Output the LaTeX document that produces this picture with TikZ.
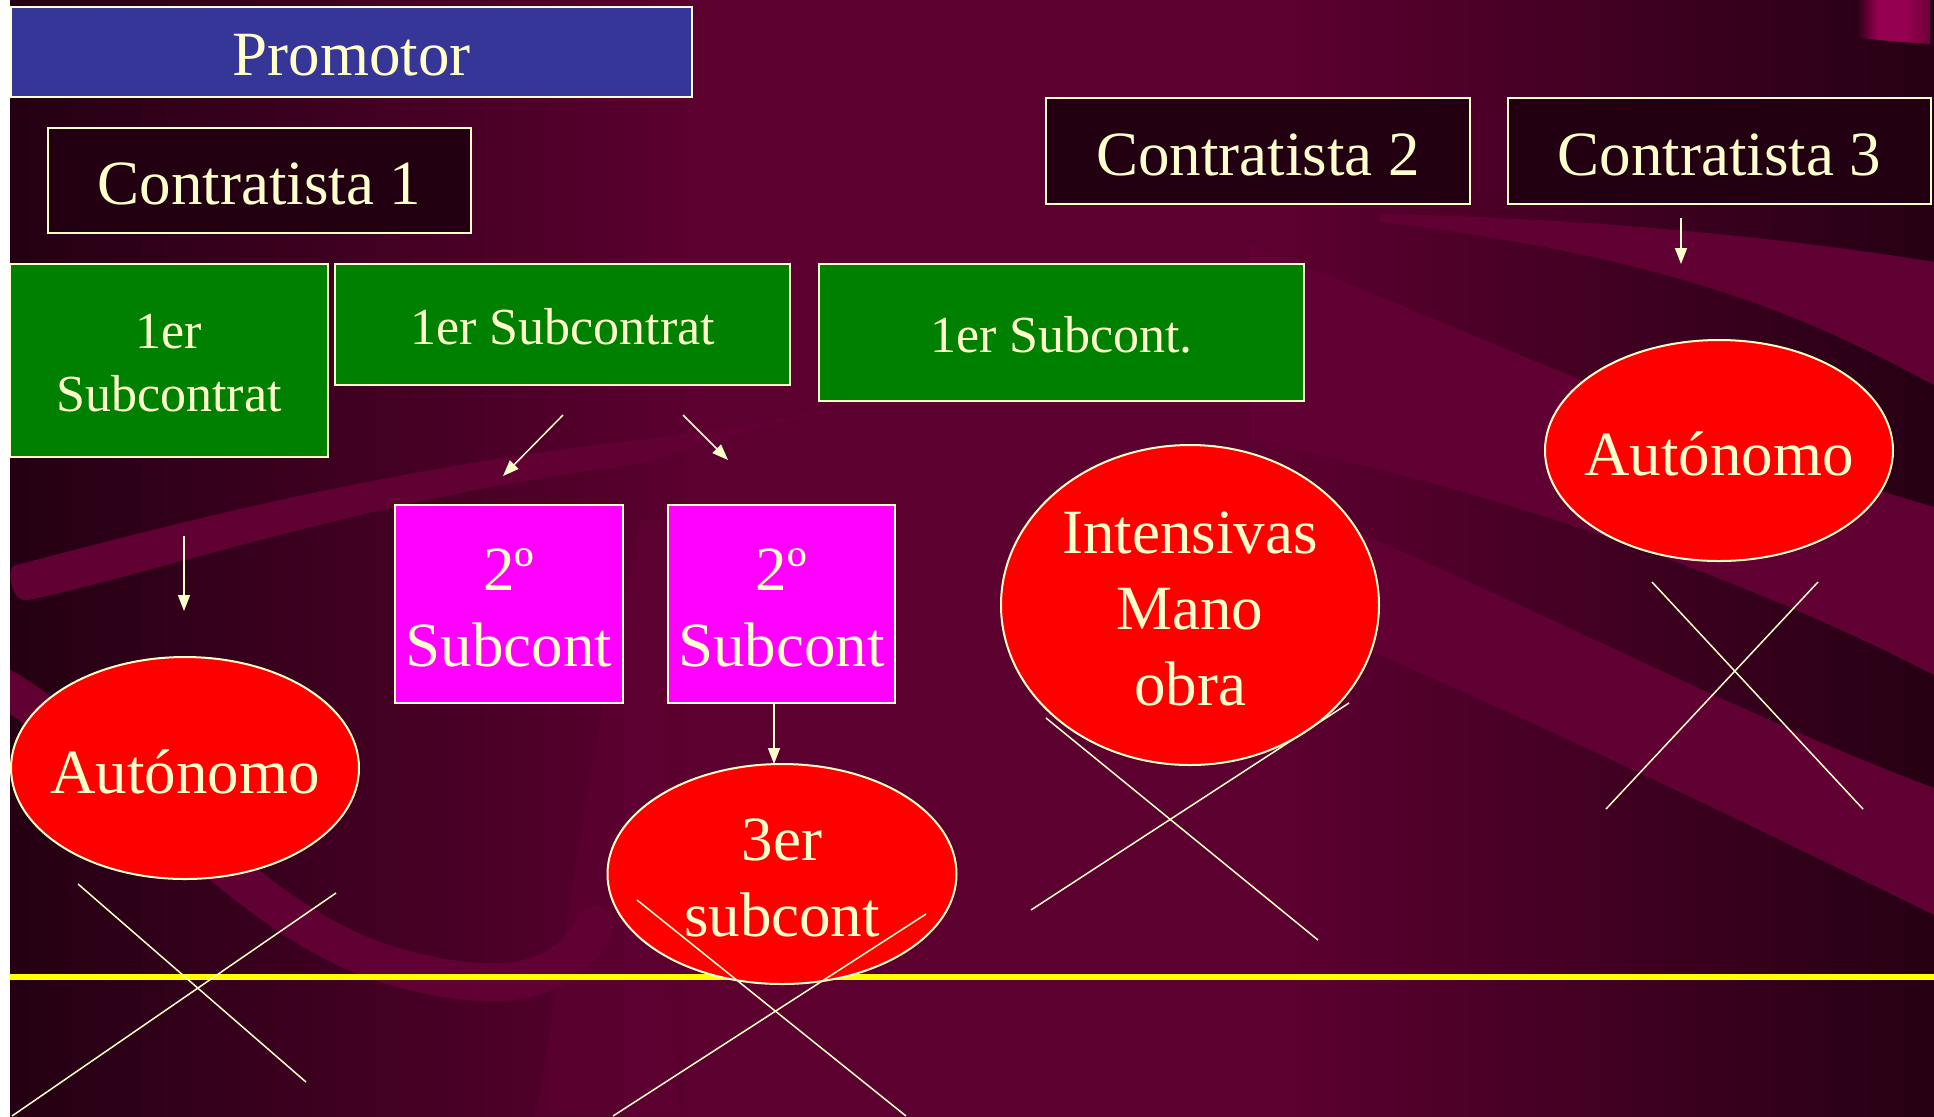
\documentclass[tikz,border=0pt]{standalone}
\usepackage{fontspec}
\setmainfont{Liberation Serif}
\usetikzlibrary{arrows.meta,shapes.geometric}
\definecolor{cream}{RGB}{255,255,204}
\definecolor{bgdk}{RGB}{36,0,18}
\definecolor{bgdkr}{RGB}{38,0,19}
\definecolor{bgmr}{RGB}{92,0,48}
\definecolor{bandl}{RGB}{96,0,51}
\definecolor{boxdk}{RGB}{34,0,17}
\definecolor{promblue}{RGB}{54,54,153}
\definecolor{subgreen}{RGB}{0,128,0}
\definecolor{submag}{RGB}{255,0,255}
\definecolor{elred}{RGB}{255,0,0}
\definecolor{lineyel}{RGB}{255,255,0}
\definecolor{pinkpatch}{RGB}{150,0,80}
\definecolor{pinkedge}{RGB}{110,0,58}
\pgfdeclarehorizontalshading{bgsh}{100bp}{color(0bp)=(bgdk); color(25bp)=(bgdk); color(43bp)=(bgmr); color(58bp)=(bgmr); color(75bp)=(bgdkr); color(100bp)=(bgdkr)}
\pgfdeclarehorizontalshading{patchsh}{100bp}{color(0bp)=(bgdk); color(25bp)=(bgdk); color(40bp)=(pinkpatch); color(58bp)=(pinkpatch); color(75bp)=(pinkedge); color(100bp)=(pinkedge)}
\begin{document}
\begin{tikzpicture}[x=0.5pt,y=-0.5pt,
  every node/.style={text=cream, inner sep=0pt, outer sep=0pt},
  bx/.style={draw=cream, line width=1pt, rectangle},
  el/.style={draw=cream, line width=1pt, ellipse, fill=elred},
  big/.style={font=\fontsize{31.5}{38}\selectfont, align=center, yshift=-1.75pt},
  sml/.style={font=\fontsize{26}{31.5}\selectfont, align=center, yshift=-1.25pt},
  arr/.style={draw=cream, line width=0.75pt, -{Triangle[length=8pt,width=6pt]}},
  cross/.style={draw=cream, line width=0.75pt}]
\useasboundingbox (0,0) rectangle (1934,1116);
\fill[white] (0,0) rectangle (1934,1116);
\shade[shading=bgsh] (10,0) rectangle (1934,1116);
\begin{scope}
\clip (10,0) rectangle (1934,1116);
% left ribbons
\fill[bandl] (13,566) .. controls (150,530) and (380,468) .. (640,440) .. controls (700,432) and (760,422) .. (820,412) .. controls (760,430) and (700,445) .. (640,464) .. controls (380,495) and (150,575) .. (28,600) .. controls (10,603) and (8,570) .. (13,566) -- cycle;
\draw[bandl, line width=19pt, line cap=round] (-10,680) .. controls (120,750) and (250,930) .. (400,968) .. controls (500,995) and (565,985) .. (595,925);
\fill[bandl, opacity=0.5] (536,1116) .. controls (570,900) and (600,700) .. (640,520) -- (680,520) .. controls (665,700) and (660,900) .. (680,1116) -- cycle;
% right ribbons
\fill[bandl] (1380,214) .. controls (1600,218) and (1800,240) .. (1934,262) -- (1934,385) .. controls (1830,330) and (1700,260) .. (1380,222) -- cycle;
\fill[bandl] (1250,245) .. controls (1400,300) and (1700,440) .. (1934,507) -- (1934,675) .. controls (1750,580) and (1500,490) .. (1250,440) -- cycle;
\fill[bandl] (1200,470) .. controls (1450,560) and (1700,700) .. (1934,788) -- (1934,915) .. controls (1700,800) and (1450,680) .. (1200,580) -- cycle;
% top right patch
\shade[shading=patchsh] (1855,0) -- (1930,0) -- (1930,44) .. controls (1900,42) and (1875,40) .. (1855,37) -- cycle;
\end{scope}
% yellow line
\coordinate (yl) at (10,977);
\coordinate (yr) at (1934,977);
\draw[lineyel, line width=2.75pt] (yl) -- (yr);
% boxes
\node[bx, fill=promblue, minimum width=340.5pt, minimum height=45pt] (prom) at (351.5,52) {};
\node[big] (promt) at (prom) {Promotor};
\node[bx, fill=boxdk, minimum width=211.5pt, minimum height=52.5pt] (c1) at (259.5,180.5) {};
\node[big] (c1t) at (c1) {Contratista 1};
\node[bx, fill=boxdk, minimum width=212pt, minimum height=53pt] (c2) at (1258,151) {};
\node[big] (c2t) at (c2) {Contratista 2};
\node[bx, fill=boxdk, minimum width=211.5pt, minimum height=53pt] (c3) at (1719.5,151) {};
\node[big] (c3t) at (c3) {Contratista 3};
\node[bx, fill=subgreen, minimum width=158.75pt, minimum height=96.5pt] (g1) at (169,360.5) {};
\node[sml] (g1t) at (g1) {1er\\Subcontrat};
\node[bx, fill=subgreen, minimum width=227.5pt, minimum height=60.5pt] (g2) at (562.5,324.5) {};
\node[sml] (g2t) at (g2) {1er Subcontrat};
\node[bx, fill=subgreen, minimum width=242.5pt, minimum height=68.5pt] (g3) at (1061.5,332.5) {};
\node[sml] (g3t) at (g3) {1er Subcont.};
\node[bx, fill=submag, minimum width=114pt, minimum height=99pt] (m1) at (509,604) {};
\node[big] (m1t) at (m1) {2º\\Subcont};
\node[bx, fill=submag, minimum width=113.5pt, minimum height=99pt] (m2) at (781.5,604) {};
\node[big] (m2t) at (m2) {2º\\Subcont};
% ellipses
\node[el, minimum width=174pt, minimum height=111pt] (a1) at (185,768) {};
\node[big] (a1t) at (a1) {Autónomo};
\node[el, minimum width=174.5pt, minimum height=110pt] (s3) at (782,874) {};
\node[big] (s3t) at (s3) {3er\\subcont};
\node[el, minimum width=189pt, minimum height=160pt] (im) at (1190,605) {};
\node[big] (imt) at (im) {Intensivas\\Mano\\obra};
\node[el, minimum width=174pt, minimum height=110.5pt] (a3) at (1719,450.5) {};
\node[big] (a3t) at (a3) {Autónomo};
% arrows
\coordinate (g2l) at (563,415); \coordinate (m1in) at (503,476);
\draw[arr] (g2l) -- (m1in);
\coordinate (g2r) at (683,415); \coordinate (m2in) at (728,460);
\draw[arr] (g2r) -- (m2in);
\coordinate (g1o) at (184,536); \coordinate (a1in) at (184,611);
\draw[arr] (g1o) -- (a1in);
\coordinate (s3in) at (774,764);
\draw[arr] (m2.south -| s3in) -- (s3in);
\coordinate (c3o) at (1681,218); \coordinate (a3in) at (1681,264);
\draw[arr] (c3o) -- (a3in);
% crosses
\coordinate (x1a) at (78,884); \coordinate (x1b) at (306,1082);
\coordinate (x1c) at (336,893); \coordinate (x1d) at (12,1116);
\draw[cross] (x1a) -- (x1b); \draw[cross] (x1c) -- (x1d);
\coordinate (x2a) at (637,900); \coordinate (x2b) at (906,1116);
\coordinate (x2c) at (926,914); \coordinate (x2d) at (613,1116);
\draw[cross] (x2a) -- (x2b); \draw[cross] (x2c) -- (x2d);
\coordinate (x3a) at (1046,718); \coordinate (x3b) at (1318,940);
\coordinate (x3c) at (1349,703); \coordinate (x3d) at (1031,910);
\draw[cross] (x3a) -- (x3b); \draw[cross] (x3c) -- (x3d);
\coordinate (x4a) at (1652,582); \coordinate (x4b) at (1863,809);
\coordinate (x4c) at (1818,582); \coordinate (x4d) at (1606,809);
\draw[cross] (x4a) -- (x4b); \draw[cross] (x4c) -- (x4d);
\end{tikzpicture}
\end{document}
